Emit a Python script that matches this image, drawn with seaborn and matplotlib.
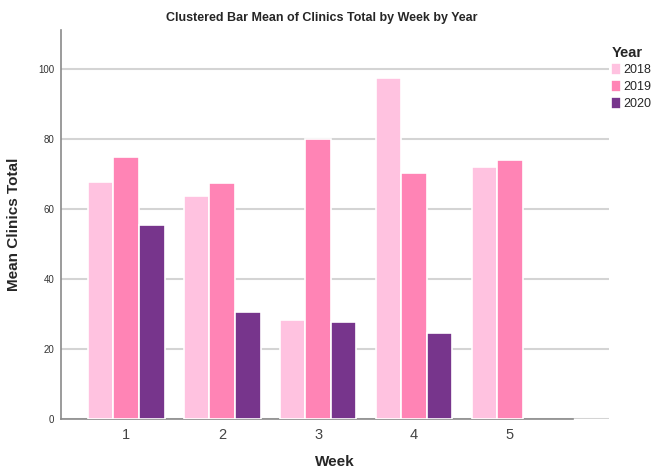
import pandas as pd
import matplotlib
matplotlib.use('Agg')
import matplotlib.pyplot as plt
import seaborn as sns

# 데이터
weeks = ['1', '2', '3', '4', '5']
years = ['2018', '2019', '2020']
mean_2018 = [67.5, 63.5, 28.1, 97.3, 71.9]
mean_2019 = [74.9, 67.3, 79.9, 70.1, 73.9]
mean_2020 = [55.4, 30.5, 27.6, 24.6]
year_colors = ['#FFC2E0', '#FF84B5', '#77358C']

rows = []
for yr, vals in zip(years, [mean_2018, mean_2019, mean_2020]):
    for wk, v in zip(weeks, vals):
        rows.append({'Week': wk, 'Year': yr, 'Mean Clinics Total': v})
df = pd.DataFrame(rows)

sns.set_style('white')
plt.rcParams['font.family'] = ['Liberation Sans', 'DejaVu Sans']

fig = plt.figure(figsize=(6.56, 4.72), dpi=100)
ax = fig.add_axes([0.093, 0.113, 0.835, 0.823])

sns.barplot(data=df, x='Week', y='Mean Clinics Total', hue='Year',
            order=weeks, hue_order=years, palette=year_colors, saturation=1,
            width=0.8, edgecolor='white', linewidth=1.2,
            errorbar=None, ax=ax, zorder=3)

ax.set_xlim(-0.68, 5.03)
ax.set_ylim(0, 111)
ax.set_yticks([0, 20, 40, 60, 80, 100])
ax.yaxis.grid(True, color='#d4d4d4', linewidth=1.5, zorder=0)
ax.set_axisbelow(True)

for s in ['top', 'right']:
    ax.spines[s].set_visible(False)
for s in ['left', 'bottom']:
    ax.spines[s].set_color('#8a8a8a')
    ax.spines[s].set_linewidth(1.2)
ax.spines['bottom'].set_bounds(-0.68, 4.66)

ax.tick_params(axis='y', length=0, labelsize=7, labelcolor='#333333', pad=5)
ax.tick_params(axis='x', length=0, labelsize=10.5, labelcolor='#444444', pad=7)

ax.set_xlabel('Week', fontsize=11, fontweight='bold', labelpad=9)
ax.set_ylabel('Mean Clinics Total', fontsize=11, fontweight='bold', labelpad=12)
fig.text(0.49, 0.962, 'Clustered Bar Mean of Clinics Total by Week by Year',
         ha='center', va='center', fontsize=9, fontweight='bold')

leg = ax.legend(title='Year', loc='upper left', bbox_to_anchor=(1.0, 0.967),
                frameon=False, fontsize=9, title_fontsize=10.5,
                handlelength=0.8, handleheight=1.1, handletextpad=0.15,
                labelspacing=0.28, borderaxespad=0, borderpad=0.2)
leg.get_title().set_fontweight('bold')
leg._legend_box.align = 'left'

plt.savefig('out.png', dpi=100)
plt.close()
